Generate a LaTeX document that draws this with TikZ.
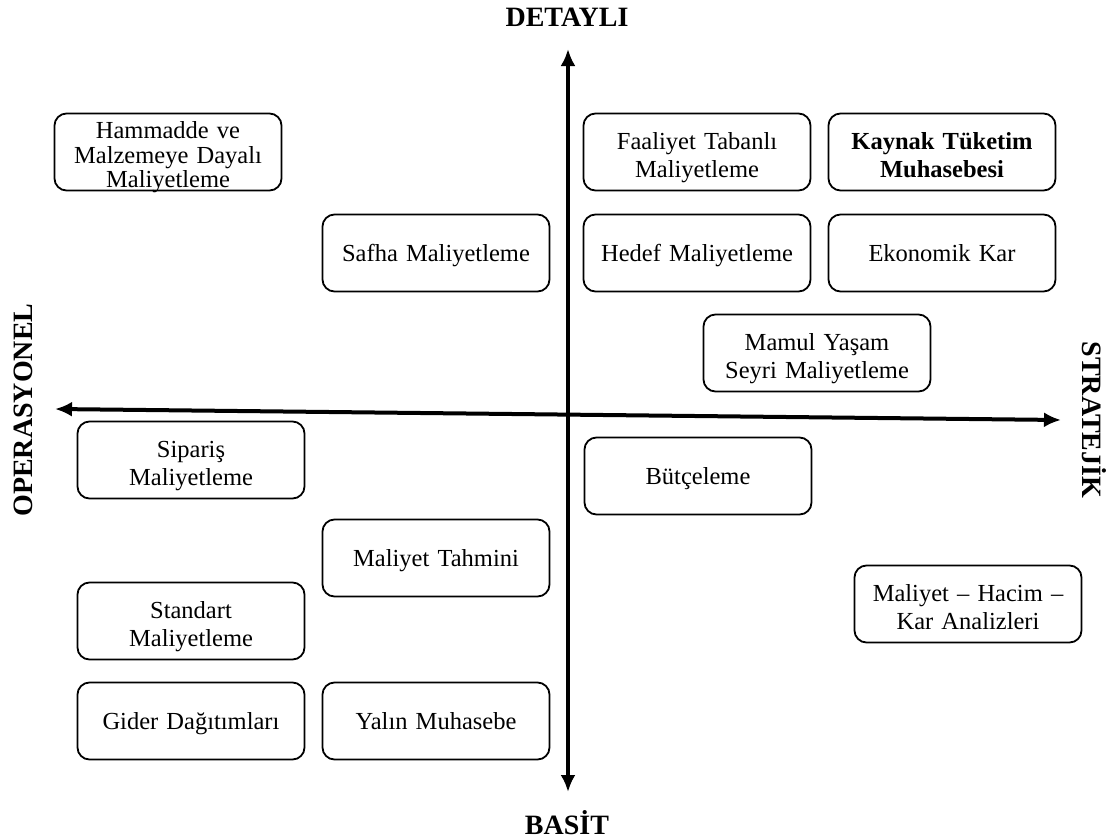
\documentclass[tikz,border=0pt]{standalone}
\usepackage{fontspec}
\setmainfont{Liberation Serif}
\usetikzlibrary{arrows.meta}
\begin{document}
\begin{tikzpicture}[x=1pt,y=-1pt,
  method/.style={draw=black, line width=1.8pt, rounded corners=12pt,
    minimum width=227pt, minimum height=77pt, inner sep=0pt,
    align=center, text width=220pt,
    font=\fontsize{24.5}{28}\selectfont},
  % fixed text box sizes put the baselines where they belong
  oneline/.style={method, text height=38pt, text depth=22pt},
  twoline/.style={method, text height=32pt, text depth=38pt},
  threeline/.style={method, font=\fontsize{24.5}{24.5}\selectfont,
    text height=24.5pt, text depth=51.5pt},
  axis/.style={line width=4pt, {Latex[length=17pt,width=15pt]}-{Latex[length=17pt,width=15pt]}},
  axislabel/.style={font=\fontsize{28}{30}\selectfont\bfseries, inner sep=0pt}]
\useasboundingbox (0,0) rectangle (1114,838);

% axes
\coordinate (top) at (568,49);
\coordinate (bottom) at (568,792);
\coordinate (left) at (55,409);
\coordinate (right) at (1061,420);
\draw[axis] (bottom) -- (top);
\draw[axis] (left) -- (right);

% axis labels
\node[axislabel, anchor=base] (detayli) at (567,26) {DETAYLI};
\node[axislabel, anchor=base] (basit) at (567,834) {BASİT};
\node[axislabel, rotate=90] (operasyonel) at (23,410) {OPERASYONEL};
\node[axislabel, rotate=-90] (stratejik) at (1094,420) {STRATEJİK};

% cost methods
\node[threeline] (hammadde) at (168,152) {Hammadde ve\\Malzemeye Dayalı\\Maliyetleme};
\node[twoline] (faaliyet) at (697,152) {Faaliyet Tabanlı\\Maliyetleme};
\node[twoline, font=\fontsize{24.5}{28}\selectfont\bfseries] (kaynak) at (942,152) {Kaynak Tüketim\\Muhasebesi};
\node[oneline] (safha) at (436,253) {Safha Maliyetleme};
\node[oneline] (hedef) at (697,253) {Hedef Maliyetleme};
\node[oneline] (ekonomik) at (942,253) {Ekonomik Kar};
\node[twoline] (mamul) at (817,353) {Mamul Yaşam\\Seyri Maliyetleme};
\node[twoline] (siparis) at (191,460) {Sipariş\\Maliyetleme};
\node[oneline] (butce) at (698,476) {Bütçeleme};
\node[oneline] (tahmin) at (436,558) {Maliyet Tahmini};
\node[twoline] (mhk) at (968,604) {Maliyet – Hacim –\\Kar Analizleri};
\node[twoline] (standart) at (191,621) {Standart\\Maliyetleme};
\node[oneline] (gider) at (191,721) {Gider Dağıtımları};
\node[oneline] (yalin) at (436,721) {Yalın Muhasebe};
\end{tikzpicture}
\end{document}
